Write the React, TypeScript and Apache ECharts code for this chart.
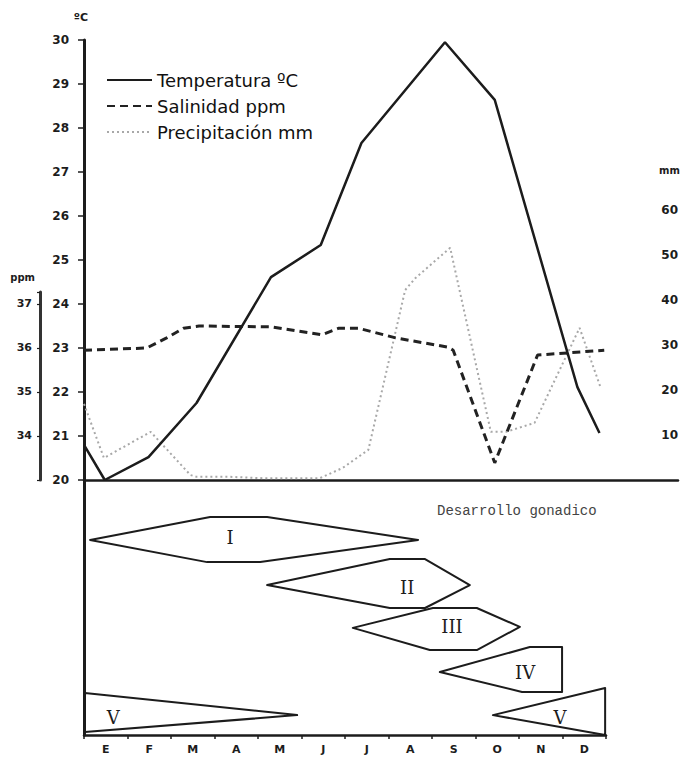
import React, { useEffect, useRef } from "react";
import * as echarts from "echarts";

// ---------- data ----------
const months = ["E", "F", "M", "A", "M", "J", "J", "A", "S", "O", "N", "D"];

// [month position (0 = start of January), value]
const temperatura: [number, number][] = [
  [0, 20.8], [0.48, 20.0], [1.49, 20.52], [2.6, 21.75], [4.32, 24.61],
  [5.47, 25.34], [6.41, 27.66], [8.34, 29.95], [9.49, 28.64], [11.4, 22.11], [11.91, 21.07],
];

const salinidad: [number, number][] = [
  [0, 35.95], [1.45, 36.0], [1.91, 36.23], [2.3, 36.45], [2.66, 36.5], [4.32, 36.48],
  [4.97, 36.38], [5.49, 36.3], [5.89, 36.45], [6.34, 36.45], [7.2, 36.23], [8.41, 36.02],
  [8.53, 35.95], [9.49, 33.39], [10.48, 35.84], [12.02, 35.95],
];

const precipitacion: [number, number][] = [
  [0, 16.9], [0.46, 4.9], [1.54, 10.7], [2.46, 1.1], [2.6, 0.7], [3.38, 0.7], [4.14, 0.4],
  [5.45, 0.4], [5.98, 2.7], [6.57, 6.7], [7.42, 42.2], [7.66, 44.9], [8.46, 51.6],
  [9.4, 10.7], [9.75, 10.7], [10.41, 12.7], [11.45, 33.8], [11.93, 20.7],
];

// gonadal development stages: outline [month, row level], label position, name
const stageNames = ["I", "II", "III", "IV", "V", "V"];
const stageShapes: [number, number][][] = [
  [[0.14, 2.35], [2.9, 1.45], [4.21, 1.45], [7.68, 2.35], [4.05, 3.22], [2.83, 3.22]],
  [[4.21, 4.12], [7.03, 3.1], [7.84, 3.1], [8.87, 4.12], [7.84, 5.02], [7.03, 5.02]],
  [[6.18, 5.8], [8.02, 5.02], [9.03, 5.02], [10.02, 5.76], [9.03, 6.67], [7.95, 6.67]],
  [[8.18, 7.53], [10.25, 6.55], [10.99, 6.55], [10.99, 8.31], [10.07, 8.31]],
  [[9.4, 9.22], [11.98, 8.16], [11.98, 10.0]],
  [[0.02, 8.35], [4.9, 9.22], [0.02, 9.88]],
];
const stageLabelPos: [number, number][] = [
  [3.36, 2.27], [7.43, 4.2], [8.46, 5.73], [10.14, 7.53], [10.94, 9.3], [0.67, 9.3],
];

const tempTicks = { min: 20, max: 30, interval: 1 };
const precipTicks = { min: 0, max: 97.78, interval: 10, shownMin: 10, shownMax: 60 };
const ppmTicks = { min: 33, max: 37.27, interval: 1, shownMin: 34, shownMax: 37 };

const INK = "#1c1c1c";
const tickFont = { fontFamily: "DejaVu Sans", fontWeight: "bold" as const, color: INK };

export default function App() {
  const ref = useRef<HTMLDivElement>(null);

  useEffect(() => {
    if (!ref.current) return;
    const chart = echarts.init(ref.current, undefined, { renderer: "svg" });

    const option: any = {
      animation: false,
      backgroundColor: "#ffffff",
      legend: {
        data: ["Temperatura ºC", "Salinidad ppm", "Precipitación mm"],
        orient: "vertical",
        left: 101,
        top: 66,
        itemWidth: 45,
        itemHeight: 14,
        itemGap: 8,
        selectedMode: false,
        itemStyle: { opacity: 0 },
        textStyle: { fontFamily: "DejaVu Sans", fontSize: 18, color: "#111" },
      },
      grid: [
        { left: 84, top: 40, right: 0, height: 440 },
        { left: 84, top: 480, width: 522, height: 255 },
        { left: 40, top: 292, width: 1, height: 188 },
      ],
      xAxis: [
        {
          gridIndex: 0, type: "value", min: 0, max: 597 / 43.5,
          axisLine: { show: true, onZero: false, lineStyle: { color: INK, width: 2.5 } },
          axisTick: { show: false }, axisLabel: { show: false }, splitLine: { show: false },
        },
        { gridIndex: 1, type: "value", min: 0, max: 12, show: false },
        {
          gridIndex: 1, type: "category", data: months, position: "bottom",
          axisLine: { show: true, lineStyle: { color: INK, width: 2.5 } },
          axisTick: { show: true, length: 4, lineStyle: { color: INK, width: 1.5 } },
          axisLabel: { ...tickFont, fontSize: 11, margin: 9 },
          splitLine: { show: false },
        },
        { gridIndex: 2, type: "value", show: false },
      ],
      yAxis: [
        {
          gridIndex: 0, type: "value", position: "left",
          min: tempTicks.min, max: tempTicks.max, interval: tempTicks.interval,
          name: "ºC", nameLocation: "end", nameGap: 17,
          nameTextStyle: { ...tickFont, fontSize: 11, padding: [0, 6, 0, 0] },
          axisLine: { show: true, lineStyle: { color: INK, width: 3 } },
          axisTick: { show: true, length: 6, lineStyle: { color: INK, width: 1.5 } },
          axisLabel: { ...tickFont, fontSize: 12, margin: 15 },
          splitLine: { show: false },
        },
        {
          gridIndex: 0, type: "value", position: "right",
          min: precipTicks.min, max: precipTicks.max, interval: precipTicks.interval,
          axisLine: { show: false }, axisTick: { show: false }, splitLine: { show: false },
          axisLabel: {
            ...tickFont, fontSize: 12, inside: true, margin: 0,
            formatter: (v: number) =>
              v >= precipTicks.shownMin && v <= precipTicks.shownMax && v % 10 === 0 ? String(v) : "",
          },
        },
        { gridIndex: 0, type: "value", min: 33, max: 43, show: false },
        {
          gridIndex: 1, type: "value", min: 0, max: 10, inverse: true,
          axisLine: { show: true, lineStyle: { color: INK, width: 3 } },
          axisTick: { show: false }, axisLabel: { show: false }, splitLine: { show: false },
        },
        {
          gridIndex: 2, type: "value", position: "left",
          min: ppmTicks.min, max: ppmTicks.max, interval: ppmTicks.interval,
          name: "ppm", nameLocation: "end", nameGap: 10,
          nameTextStyle: { ...tickFont, fontSize: 10, align: "right", padding: [0, 5, 0, 0] },
          axisLine: { show: true, lineStyle: { color: "#333", width: 3 } },
          axisTick: { show: true, length: 3, lineStyle: { color: INK, width: 1.2 } },
          axisLabel: {
            ...tickFont, fontSize: 11, margin: 8,
            formatter: (v: number) =>
              v >= ppmTicks.shownMin && v <= ppmTicks.shownMax && Number.isInteger(v) ? String(v) : "",
          },
          splitLine: { show: false },
        },
      ],
      graphic: [
        {
          type: "text", left: 437, top: 504,
          style: {
            text: "Desarrollo gonadico", fill: "#444",
            font: '14px "Liberation Mono"',
          },
        },
        {
          type: "text", left: 659, top: 165,
          style: { text: "mm", fill: INK, font: 'bold 10px "DejaVu Sans"' },
        },
      ],
      series: [
        {
          name: "Temperatura ºC", type: "line", xAxisIndex: 0, yAxisIndex: 0,
          data: temperatura, symbol: "none", z: 5,
          lineStyle: { color: INK, width: 2.5, type: "solid" },
          itemStyle: { color: INK },
        },
        {
          name: "Salinidad ppm", type: "line", xAxisIndex: 0, yAxisIndex: 2,
          data: salinidad, symbol: "none", z: 4,
          lineStyle: { color: "#222", width: 3, type: [8, 5] },
          itemStyle: { color: "#222" },
        },
        {
          name: "Precipitación mm", type: "line", xAxisIndex: 0, yAxisIndex: 1,
          data: precipitacion, symbol: "none", z: 3,
          lineStyle: { color: "#a8a8a8", width: 2, type: [2, 3] },
          itemStyle: { color: "#a8a8a8" },
        },
        {
          name: "Desarrollo gonadico", type: "custom", xAxisIndex: 1, yAxisIndex: 3,
          data: stageLabelPos,
          renderItem: (params: any, api: any) => {
            const i = params.dataIndex;
            const pts = stageShapes[i].map((p) => api.coord(p));
            const c = api.coord([api.value(0), api.value(1)]);
            return {
              type: "group",
              children: [
                {
                  type: "polygon",
                  shape: { points: pts },
                  style: { fill: "none", stroke: INK, lineWidth: 2, lineJoin: "round" },
                },
                {
                  type: "text",
                  x: c[0], y: c[1],
                  style: {
                    text: stageNames[i], fill: INK,
                    font: '18px "DejaVu Serif"',
                    align: "center", verticalAlign: "middle",
                  },
                },
              ],
            };
          },
        },
      ],
    };

    chart.setOption(option);
    return () => chart.dispose();
  }, []);

  return (
    <div
      ref={ref}
      style={{ position: "fixed", left: 0, top: 0, width: 681, height: 759, background: "#fff" }}
    />
  );
}
